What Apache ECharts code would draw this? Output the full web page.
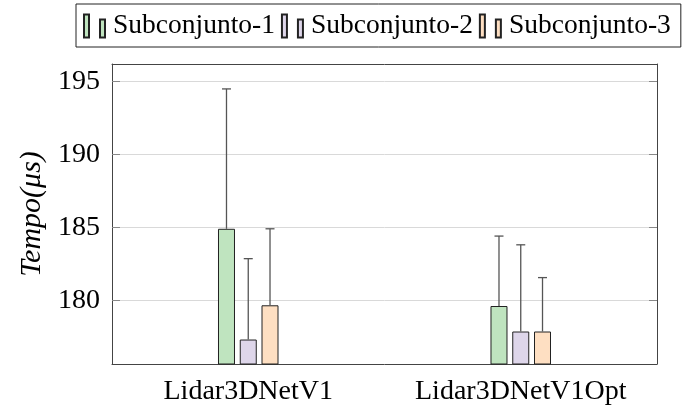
<!DOCTYPE html>
<html>
<head>
<meta charset="utf-8">
<script src="https://cdn.jsdelivr.net/npm/echarts@6/dist/echarts.min.js"></script>
<style>
  html, body { margin: 0; padding: 0; background: #fff; }
  #chart { width: 685px; height: 412px; }
</style>
</head>
<body>
<div id="chart"></div>
<script>
// Mean processing time per model and subset, with upper error bars
const categories = ['Lidar3DNetV1', 'Lidar3DNetV1Opt'];
const seriesNames = ['Subconjunto-1', 'Subconjunto-2', 'Subconjunto-3'];
const sub1 = [184.9, 179.6];
const sub2 = [177.3, 177.85];
const sub3 = [179.65, 177.85];
const sub1Err = [9.6, 4.8];
const sub2Err = [5.55, 5.95];
const sub3Err = [5.25, 3.7];
const yTicks = [180, 185, 190, 195];

const fills = ['#bfe4bf', '#ded6ea', '#fedfc2'];
const FONT = '"Liberation Serif", "DejaVu Serif", serif';
const BAR_W = 17;
const BAR_GAP = 0.28;
const AXIS_COLOR = '#444';

const chart = echarts.init(document.getElementById('chart'), null, { renderer: 'canvas' });

const values = [sub1, sub2, sub3];
const errs = [sub1Err, sub2Err, sub3Err];
const step = BAR_W * (1 + BAR_GAP);

function errorBar(offset) {
  return function (params, api) {
    const base = api.coord([api.value(0), api.value(1)]);
    const top = api.coord([api.value(0), api.value(2)]);
    const cx = base[0] + offset;
    const st = { stroke: '#555', lineWidth: 1.3 };
    return {
      type: 'group',
      children: [
        { type: 'line', shape: { x1: cx, y1: base[1], x2: cx, y2: top[1] }, style: st },
        { type: 'line', shape: { x1: cx - 4.5, y1: top[1], x2: cx + 4.5, y2: top[1] }, style: st }
      ]
    };
  };
}

const series = [];
values.forEach((vals, i) => {
  series.push({
    name: seriesNames[i],
    type: 'bar',
    data: vals,
    barWidth: BAR_W,
    barGap: (BAR_GAP * 100) + '%',
    itemStyle: { color: fills[i], borderColor: '#222', borderWidth: 1 },
    emphasis: { disabled: true },
    z: 2
  });
});
values.forEach((vals, i) => {
  series.push({
    type: 'custom',
    renderItem: errorBar((i - 1) * step),
    data: vals.map((v, k) => [k, v, v + errs[i][k]]),
    encode: { x: 0, y: [1, 2] },
    silent: true,
    z: 3
  });
});

chart.setOption({
  animation: false,
  textStyle: { fontFamily: FONT },
  legend: {
    data: seriesNames,
    left: 76,
    top: 4,
    padding: [8, 10, 7, 7],
    itemGap: 6,
    itemWidth: 21,
    itemHeight: 23,
    icon: 'path://M0,0H5V23H0Z M16,5H21V23H16Z',
    borderColor: '#222',
    borderWidth: 1,
    textStyle: { fontFamily: FONT, fontSize: 27.5, color: '#000', padding: [0, 0, 0, 3] },
    selectedMode: false
  },
  grid: { left: 112, right: 28, top: 64, bottom: 48 },
  xAxis: [
    {
      type: 'category',
      data: categories,
      boundaryGap: true,
      axisLine: { lineStyle: { color: AXIS_COLOR, width: 1 } },
      axisTick: { alignWithLabel: true, length: 9, lineStyle: { color: '#888' } },
      axisLabel: { interval: 0, fontFamily: FONT, fontSize: 28, color: '#000', margin: 14 }
    },
    {
      type: 'category',
      data: categories,
      position: 'top',
      boundaryGap: true,
      axisLine: { lineStyle: { color: AXIS_COLOR, width: 1 } },
      axisTick: { alignWithLabel: true, interval: 0, length: 9, lineStyle: { color: '#888' } },
      axisLabel: { show: false }
    }
  ],
  yAxis: [
    {
      type: 'value',
      min: 175.62,
      max: 196.21,
      name: 'Tempo(μs)',
      nameLocation: 'middle',
      nameGap: 61,
      nameTextStyle: { fontFamily: FONT, fontSize: 30, fontStyle: 'italic', color: '#000' },
      axisLine: { show: true, lineStyle: { color: AXIS_COLOR, width: 1 } },
      axisTick: { show: true, inside: true, length: 8, customValues: yTicks, lineStyle: { color: '#888' } },
      axisLabel: { customValues: yTicks, fontFamily: FONT, fontSize: 28, color: '#000', margin: 12 },
      splitLine: { show: true, lineStyle: { color: '#d9d9d9', width: 1 } }
    },
    {
      type: 'value',
      min: 175.62,
      max: 196.21,
      position: 'right',
      axisLine: { show: true, lineStyle: { color: AXIS_COLOR, width: 1 } },
      axisTick: { show: true, inside: true, length: 8, customValues: yTicks, lineStyle: { color: '#888' } },
      axisLabel: { show: false },
      splitLine: { show: false }
    }
  ],
  series: series
});
</script>
</body>
</html>
